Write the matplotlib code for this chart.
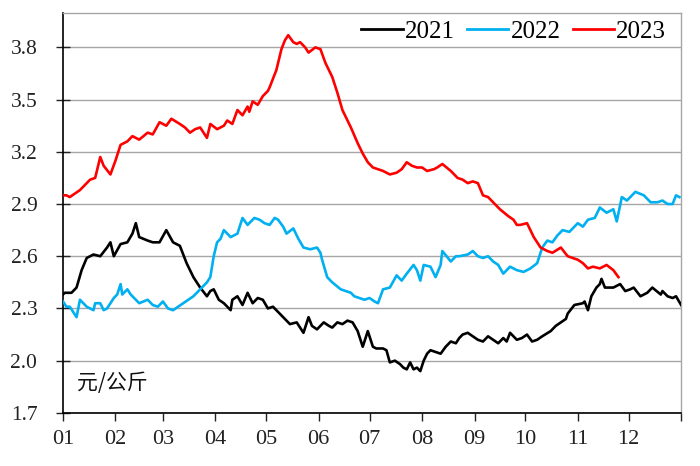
"""Price by day of year, 2021-2023, with month ticks."""

import matplotlib

matplotlib.use("Agg")

import matplotlib.pyplot as plt

COLORS = {"2021": "#000000", "2022": "#00B0F0", "2023": "#FF0000", "grid": "#A6A6A6"}

# day of year (0 = 1 Jan) and price, yuan per kg
days_2021 = [0, 1, 5, 8, 11, 14, 18, 22, 26, 28, 30, 34, 38, 41, 43, 45, 50, 53, 57, 61,
             65, 69, 73, 77, 81, 85, 87, 89, 92, 95, 99, 100, 103, 106, 109, 112, 115, 118,
             121, 124, 128, 131, 134, 138, 142, 145, 147, 150, 154, 157, 159, 162, 165, 168,
             171, 174, 177, 180, 183, 185, 189, 191, 193, 196, 199, 201, 203, 205, 207, 209,
             211, 213, 215, 217, 220, 223, 226, 229, 232, 234, 236, 239, 242, 245, 248, 251,
             254, 257, 260, 262, 264, 268, 271, 274, 277, 280, 283, 288, 291, 294, 297, 298,
             302, 307, 308, 310, 312, 315, 317, 318, 320, 321, 325, 329, 332, 335, 337, 341,
             345, 348, 353, 354, 357, 360, 362, 365]
price_2021 = [2.38, 2.39, 2.39, 2.42, 2.52, 2.59, 2.61, 2.60, 2.65, 2.68, 2.60, 2.67, 2.68,
              2.73, 2.79, 2.71, 2.69, 2.68, 2.68, 2.75, 2.68, 2.66, 2.56, 2.48, 2.42, 2.37,
              2.40, 2.41, 2.35, 2.33, 2.29, 2.35, 2.37, 2.32, 2.39, 2.33, 2.36, 2.35, 2.30,
              2.31, 2.27, 2.24, 2.21, 2.22, 2.16, 2.25, 2.20, 2.18, 2.22, 2.20, 2.19, 2.22,
              2.21, 2.23, 2.22, 2.17, 2.08, 2.17, 2.08, 2.07, 2.07, 2.06, 1.99, 2.00, 1.98,
              1.96, 1.95, 1.99, 1.95, 1.96, 1.94, 2.00, 2.04, 2.06, 2.05, 2.04, 2.08, 2.11,
              2.10, 2.13, 2.15, 2.16, 2.14, 2.12, 2.11, 2.14, 2.12, 2.10, 2.13, 2.11, 2.16,
              2.12, 2.13, 2.15, 2.11, 2.12, 2.14, 2.17, 2.20, 2.22, 2.24, 2.27, 2.32, 2.33,
              2.34, 2.29, 2.37, 2.42, 2.44, 2.47, 2.42, 2.42, 2.42, 2.44, 2.40, 2.41, 2.42,
              2.37, 2.39, 2.42, 2.38, 2.40, 2.37, 2.36, 2.37, 2.32]

days_2022 = [0, 2, 4, 6, 8, 10, 12, 14, 18, 19, 22, 24, 26, 30, 32, 34, 35, 38, 40, 43, 45,
             50, 53, 56, 59, 62, 65, 68, 71, 74, 77, 81, 85, 87, 89, 91, 93, 95, 99, 103,
             106, 109, 110, 113, 116, 119, 122, 125, 127, 130, 132, 136, 139, 142, 146, 150,
             152, 153, 156, 159, 164, 167, 170, 172, 175, 178, 181, 184, 186, 189, 193, 197,
             200, 203, 207, 209, 211, 213, 217, 220, 223, 224, 229, 232, 234, 239, 242, 245,
             248, 251, 254, 257, 260, 264, 268, 272, 276, 280, 283, 286, 289, 292, 295, 299,
             304, 307, 310, 314, 317, 321, 325, 327, 330, 333, 338, 343, 347, 351, 354, 357,
             360, 362, 364]
price_2022 = [2.34, 2.31, 2.31, 2.28, 2.25, 2.35, 2.33, 2.31, 2.29, 2.33, 2.33, 2.29, 2.30,
              2.36, 2.38, 2.44, 2.38, 2.41, 2.38, 2.35, 2.33, 2.35, 2.32, 2.31, 2.34, 2.30,
              2.29, 2.31, 2.33, 2.35, 2.37, 2.41, 2.45, 2.48, 2.60, 2.68, 2.70, 2.75, 2.71,
              2.73, 2.82, 2.78, 2.79, 2.82, 2.81, 2.79, 2.78, 2.82, 2.81, 2.77, 2.73, 2.76,
              2.70, 2.65, 2.64, 2.65, 2.62, 2.58, 2.48, 2.45, 2.41, 2.40, 2.39, 2.37, 2.36,
              2.35, 2.36, 2.34, 2.33, 2.41, 2.42, 2.49, 2.46, 2.50, 2.55, 2.52, 2.46, 2.55,
              2.54, 2.48, 2.55, 2.63, 2.57, 2.60, 2.60, 2.61, 2.63, 2.60, 2.59, 2.60, 2.57,
              2.55, 2.50, 2.54, 2.52, 2.51, 2.53, 2.56, 2.65, 2.69, 2.68, 2.72, 2.75, 2.74,
              2.79, 2.77, 2.81, 2.82, 2.88, 2.85, 2.87, 2.80, 2.94, 2.92, 2.97, 2.95, 2.91,
              2.91, 2.92, 2.90, 2.90, 2.95, 2.94]

days_2023 = [0, 2, 4, 10, 16, 19, 22, 24, 28, 31, 34, 38, 41, 45, 50, 53, 57, 61, 64, 69,
             72, 75, 78, 81, 85, 87, 91, 95, 97, 100, 103, 106, 109, 110, 112, 115, 118, 121,
             122, 126, 129, 131, 133, 136, 138, 140, 143, 145, 149, 152, 155, 159, 162, 165,
             170, 174, 177, 180, 183, 186, 189, 193, 197, 200, 203, 206, 209, 212, 215, 219,
             221, 224, 229, 233, 236, 239, 242, 245, 248, 251, 254, 258, 263, 266, 268, 270,
             274, 278, 282, 286, 289, 294, 298, 301, 304, 307, 310, 313, 317, 321, 325, 328]
price_2023 = [2.95, 2.95, 2.94, 2.98, 3.04, 3.05, 3.17, 3.12, 3.07, 3.15, 3.24, 3.26, 3.29,
              3.27, 3.31, 3.30, 3.37, 3.35, 3.39, 3.36, 3.34, 3.31, 3.33, 3.34, 3.28, 3.36,
              3.33, 3.35, 3.38, 3.36, 3.44, 3.41, 3.46, 3.43, 3.49, 3.47, 3.52, 3.55, 3.57,
              3.67, 3.79, 3.84, 3.87, 3.83, 3.82, 3.83, 3.80, 3.77, 3.80, 3.79, 3.71, 3.63,
              3.54, 3.44, 3.34, 3.25, 3.19, 3.14, 3.11, 3.10, 3.09, 3.07, 3.08, 3.10, 3.14,
              3.12, 3.11, 3.11, 3.09, 3.10, 3.11, 3.13, 3.09, 3.05, 3.04, 3.02, 3.03, 3.02,
              2.95, 2.94, 2.91, 2.87, 2.83, 2.81, 2.78, 2.78, 2.79, 2.71, 2.65, 2.63, 2.62,
              2.65, 2.60, 2.59, 2.58, 2.56, 2.53, 2.54, 2.53, 2.55, 2.52, 2.48]

month_starts = [0, 31, 59, 90, 120, 151, 181, 212, 243, 273, 304, 334, 365]
month_labels = ["01", "02", "03", "04", "05", "06", "07", "08", "09", "10", "11", "12"]
y_ticks = [1.7, 2.0, 2.3, 2.6, 2.9, 3.2, 3.5, 3.8]

SERIF = ["Liberation Serif", "DejaVu Serif"]

figure = plt.figure(figsize=(7.0, 4.66), dpi=100)
axis = figure.add_axes([0.09, 0.114, 0.883, 0.859])

for year, days, price in [("2021", days_2021, price_2021),
                          ("2022", days_2022, price_2022),
                          ("2023", days_2023, price_2023)]:
    axis.plot(days, price, color=COLORS[year], linewidth=1.9, label=year, zorder=3)

axis.set_xlim(0, 365)
axis.set_ylim(1.7, 4.0)
axis.set_yticks(y_ticks)
axis.set_yticklabels([f"{v:.1f}" for v in y_ticks], family=SERIF, fontsize=15.5)
axis.set_xticks(month_starts)
axis.set_xticklabels(month_labels + [""], family=SERIF, fontsize=16)
axis.yaxis.grid(True, color=COLORS["grid"], linewidth=1.0)
axis.set_axisbelow(True)
axis.tick_params(axis="x", direction="out", length=6, width=1.0, pad=6, colors="#222222")
axis.tick_params(axis="y", direction="inout", length=10, width=1.0, pad=13.5, colors="#222222")

axis.spines["left"].set_color("black")
axis.spines["bottom"].set_color("black")
axis.spines["left"].set_linewidth(1.2)
axis.spines["bottom"].set_linewidth(1.2)
for side in ("top", "right"):
    axis.spines[side].set_color(COLORS["grid"])
    axis.spines[side].set_linewidth(1.0)

axis.text(0.022, 0.075, "元/公斤", transform=axis.transAxes, fontsize=15,
          family=["Noto Sans CJK SC", "DejaVu Sans"], fontweight="medium",
          va="center", ha="left", color="#111111")

legend = axis.legend(loc="upper right", bbox_to_anchor=(0.996, 1.012), ncol=3,
                     frameon=False, prop={"family": SERIF, "size": 18},
                     handlelength=1.65, handletextpad=0.08, columnspacing=0.5,
                     borderaxespad=0.1)
for line in legend.get_lines():
    line.set_linewidth(2.0)

figure.savefig("out.png", dpi=100)
plt.close(figure)
